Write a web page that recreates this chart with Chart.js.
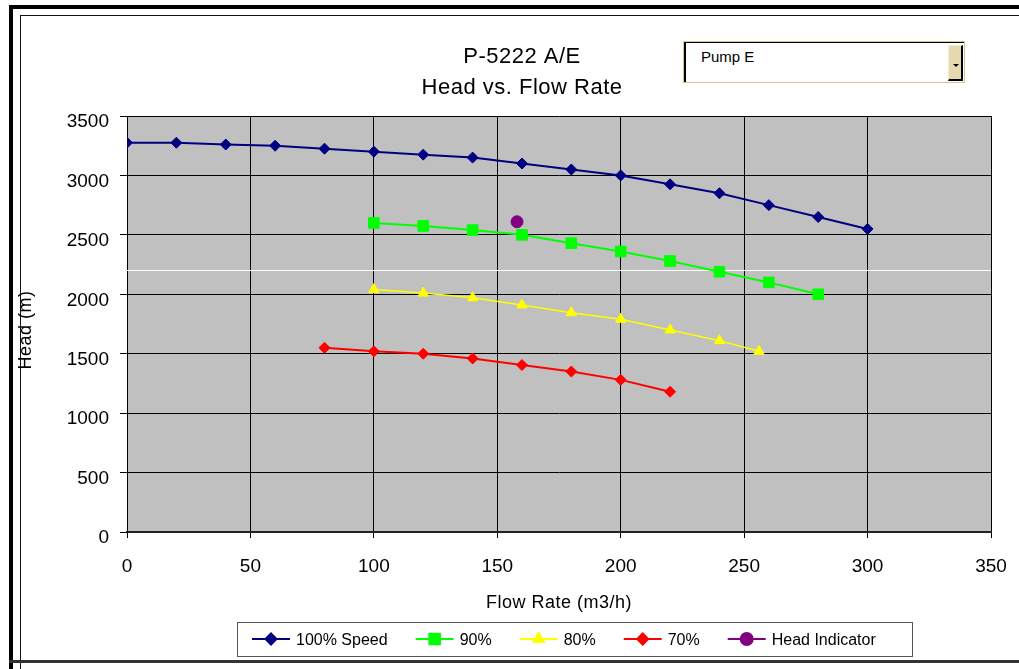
<!DOCTYPE html>
<html>
<head>
<meta charset="utf-8">
<script src="https://cdn.jsdelivr.net/npm/chart.js@4.4.1/dist/chart.umd.min.js"></script>
<style>
html,body{margin:0;padding:0;background:#fff;}
#wrap{position:relative;width:1019px;height:669px;overflow:hidden;}
#c{position:absolute;left:0;top:0;}
#dd{position:absolute;left:683px;top:41px;width:282px;height:42px;box-sizing:border-box;border:1px solid #d6c693;background:#fff;}
#ddin{position:absolute;left:0;top:0;right:0;bottom:0;border-left:2px solid #000;border-top:1px solid #000;}
#ddtxt{position:absolute;left:15px;top:5px;font:15px 'Liberation Sans',Arial,sans-serif;color:#000;}
#ddbtn{position:absolute;right:1px;top:2px;width:15px;height:36px;background:#e6d9b0;border-right:2px solid #000;border-bottom:2px solid #000;border-left:1px solid #f4ecd4;border-top:1px solid #f4ecd4;box-sizing:border-box;}
#ddarr{position:absolute;left:4px;top:18px;width:0;height:0;border-left:3px solid transparent;border-right:3px solid transparent;border-top:3px solid #000;}
</style>
</head>
<body>
<div id="wrap">
<canvas id="c" width="1019" height="669"></canvas>
<div id="dd"><div id="ddin"><div id="ddtxt">Pump E</div><div id="ddbtn"><div id="ddarr"></div></div></div></div>
</div>
<script>
// ---- data ----
const titleLines = ['P-5222 A/E', 'Head vs. Flow Rate'];
const xAxisTitle = 'Flow Rate (m3/h)';
const yAxisTitle = 'Head (m)';

const xTickValues = [0, 50, 100, 150, 200, 250, 300, 350];
const yTickValues = [0, 500, 1000, 1500, 2000, 2500, 3000, 3500];

const flow100 = [0, 20, 40, 60, 80, 100, 120, 140, 160, 180, 200, 220, 240, 260, 280, 300];
const head100 = [3275, 3275, 3260, 3250, 3225, 3200, 3175, 3150, 3100, 3050, 3000, 2925, 2850, 2750, 2650, 2550];

const flow90 = [100, 120, 140, 160, 180, 200, 220, 240, 260, 280];
const head90 = [2600, 2575, 2540, 2500, 2430, 2360, 2280, 2190, 2100, 2000];

const flow80 = [100, 120, 140, 160, 180, 200, 220, 240, 256];
const head80 = [2040, 2010, 1970, 1910, 1845, 1790, 1700, 1610, 1520];

const flow70 = [80, 100, 120, 140, 160, 180, 200, 220];
const head70 = [1550, 1520, 1500, 1460, 1405, 1350, 1280, 1180];

const indicatorFlow = [158];
const indicatorHead = [2610];

const refLineFlow = [0, 350];
const refLineHead = [2200, 2200];

const seriesLabels = ['100% Speed', '90%', '80%', '70%', 'Head Indicator'];
const seriesColors = ['#000080', '#00ff00', '#ffff00', '#ff0000', '#800080'];

// ---- build ----
const FONT = "'Liberation Sans', Arial, sans-serif";
Chart.defaults.font.family = FONT;
Chart.defaults.color = '#000';

function pts(xs, ys) { return xs.map((x, i) => ({x: x, y: ys[i]})); }

const styles = [
  {pointStyle: 'rectRot', radius: 5.5, width: 2},
  {pointStyle: 'rect', radius: 7.5, width: 2},
  {pointStyle: 'triangle', radius: 6, width: 1.5},
  {pointStyle: 'rectRot', radius: 5.5, width: 2},
  {pointStyle: 'circle', radius: 6, width: 2}
];
const seriesData = [pts(flow100, head100), pts(flow90, head90), pts(flow80, head80), pts(flow70, head70), pts(indicatorFlow, indicatorHead)];

const datasets = seriesData.map((d, i) => ({
  label: seriesLabels[i],
  data: d,
  borderColor: seriesColors[i],
  backgroundColor: seriesColors[i],
  pointBackgroundColor: seriesColors[i],
  pointBorderColor: seriesColors[i],
  pointBorderWidth: 1,
  pointStyle: styles[i].pointStyle,
  pointRadius: styles[i].radius,
  borderWidth: styles[i].width,
  showLine: true,
  tension: 0,
  inLegend: true
}));
datasets.push({
  label: 'ref',
  data: pts(refLineFlow, refLineHead),
  borderColor: '#ffffff',
  borderWidth: 1,
  pointRadius: 0,
  showLine: true,
  order: 10,
  inLegend: false
});

const decor = {
  id: 'decor',
  beforeDraw(chart) {
    const ctx = chart.ctx, a = chart.chartArea;
    ctx.save();
    ctx.fillStyle = '#c0c0c0';
    ctx.fillRect(a.left, a.top, a.right - a.left, a.bottom - a.top);
    // frame
    ctx.fillStyle = '#000';
    ctx.fillRect(9, 5, 1010, 4);
    ctx.fillRect(9, 5, 4, 664);
    ctx.fillStyle = '#111';
    ctx.fillRect(20, 15, 999, 1);
    ctx.fillRect(20, 15, 1, 654);
    ctx.fillStyle = '#333';
    ctx.fillRect(9, 660, 1010, 3);
    ctx.restore();
  },
  afterDraw(chart) {
    const ctx = chart.ctx, a = chart.chartArea;
    ctx.save();
    ctx.fillStyle = '#000';
    ctx.textAlign = 'center';
    ctx.textBaseline = 'middle';
    ctx.font = '22px ' + FONT;
    ctx.letterSpacing = '0.5px';
    const cx = 522;
    ctx.fillText(titleLines[0], cx, 57);
    ctx.fillText(titleLines[1], cx, 88);
    ctx.letterSpacing = '0.5px';
    ctx.font = '18px ' + FONT;
    ctx.fillText(xAxisTitle, (a.left + a.right) / 2, 603);
    ctx.save();
    ctx.translate(26, (a.top + a.bottom) / 2 + 6);
    ctx.rotate(-Math.PI / 2);
    ctx.fillText(yAxisTitle, 0, 0);
    ctx.restore();
    ctx.letterSpacing = '0px';
    // legend
    ctx.fillStyle = '#fff';
    ctx.fillRect(237, 622, 675, 34);
    ctx.strokeStyle = '#555';
    ctx.lineWidth = 1;
    ctx.strokeRect(237.5, 622.5, 675, 34);
    ctx.font = '16px ' + FONT;
    ctx.textAlign = 'left';
    let x = 252;
    const y = 640;
    chart.data.datasets.forEach(ds => {
      if (!ds.inLegend) return;
      ctx.strokeStyle = ds.borderColor;
      ctx.lineWidth = 2;
      ctx.beginPath();
      ctx.moveTo(x, y - 1);
      ctx.lineTo(x + 38, y - 1);
      ctx.stroke();
      Chart.helpers.drawPoint(ctx, {pointStyle: ds.pointStyle, radius: ds.pointRadius, borderWidth: 1, rotation: 0}, x + 19, y - 1);
      ctx.fillStyle = ds.pointBackgroundColor;
      ctx.fill();
      ctx.fillStyle = '#000';
      ctx.fillText(ds.label, x + 44, y + 1);
      x = x + 44 + ctx.measureText(ds.label).width + 28;
    });
    ctx.restore();
  }
};

new Chart(document.getElementById('c'), {
  type: 'scatter',
  data: {datasets: datasets},
  options: {
    responsive: false,
    animation: false,
    devicePixelRatio: 1,
    layout: {padding: {top: 116, right: 28, left: 0, bottom: 0}},
    plugins: {legend: {display: false}, title: {display: false}, tooltip: {enabled: false}},
    scales: {
      x: {
        type: 'linear', min: 0, max: 350,
        afterBuildTicks: s => { s.ticks = xTickValues.map(v => ({value: v})); },
        afterFit: s => { s.height = 137; s.paddingLeft = 0; s.paddingRight = 0; },
        grid: {color: '#000', lineWidth: 1, tickLength: 6, drawTicks: true},
        border: {display: true, color: '#222', width: 2},
        ticks: {font: {size: 19}, color: '#000', padding: 17, maxRotation: 0, callback: v => String(v)}
      },
      y: {
        type: 'linear', min: 0, max: 3500,
        afterBuildTicks: s => { s.ticks = yTickValues.map(v => ({value: v})); },
        afterFit: s => { s.width = 127; s.paddingTop = 0; s.paddingBottom = 0; },
        grid: {color: '#000', lineWidth: 1, tickLength: 7, drawTicks: true},
        border: {display: true, color: '#000', width: 1},
        ticks: {font: {size: 19}, color: '#000', padding: 11, labelOffset: 6, callback: v => String(v)}
      }
    }
  },
  plugins: [decor]
});
</script>
</body>
</html>
